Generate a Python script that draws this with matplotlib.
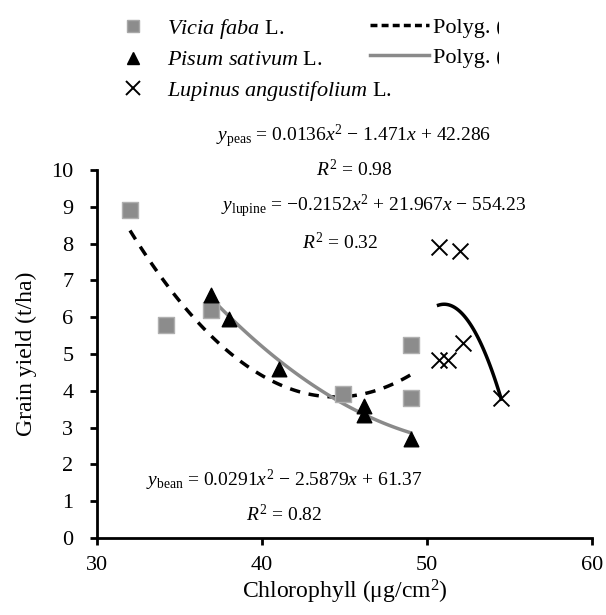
import numpy as np
import matplotlib
matplotlib.use("Agg")
import matplotlib.pyplot as plt
from matplotlib.lines import Line2D
from matplotlib.transforms import Bbox, TransformedBbox

plt.rcParams['font.family'] = 'Liberation Serif'
plt.rcParams['mathtext.fontset'] = 'custom'
plt.rcParams['mathtext.rm'] = 'Liberation Serif'
plt.rcParams['mathtext.it'] = 'Liberation Serif:italic'

# --- datos ---
bean_x = [32.0, 34.2, 36.9, 44.9, 49.0, 49.0]
bean_y = [8.9, 5.8, 6.2, 3.9, 5.25, 3.8]
pea_x = [36.9, 38.0, 41.0, 46.2, 46.2, 49.0]
pea_y = [6.6, 5.95, 4.6, 3.6, 3.35, 2.7]
lupine_x = [50.7, 52.0, 50.7, 51.3, 52.2, 54.5]
lupine_y = [7.9, 7.8, 4.85, 4.85, 5.3, 3.8]

bean_coef = [0.0291, -2.5879, 61.37]
pea_coef = [0.0136, -1.471, 42.286]
lupine_coef = [-0.2152, 21.967, -554.23]

x_ticks = [30, 40, 50, 60]
y_ticks = list(range(0, 11))

W, H = 606, 615
fig = plt.figure(figsize=(W/100, H/100), dpi=100)
ax = fig.add_axes([97/W, 1-538/H, (592-97)/W, (538-170)/H])

# curvas polinómicas
xb = np.linspace(min(bean_x), max(bean_x), 100)
xp = np.linspace(min(pea_x), max(pea_x), 100)
xl = np.linspace(min(lupine_x), max(lupine_x), 100)
ax.plot(xb, np.polyval(bean_coef, xb), color='black', lw=2.5, ls=(0, (3, 2.5)), zorder=2)
ax.plot(xp, np.polyval(pea_coef, xp), color='#8a8a8a', lw=2.5, zorder=2)
ax.plot(xl, np.polyval(lupine_coef, xl), color='black', lw=2.5, zorder=2)

ax.scatter(bean_x, bean_y, marker='s', s=130, color='#8c8c8c', edgecolor='#b0b0b0', lw=1, zorder=3)
ax.scatter(pea_x, pea_y, marker='^', s=110, color='black', zorder=4)
ax.scatter(lupine_x, lupine_y, marker='x', s=130, color='black', lw=1.4, zorder=4)

ax.set_xlim(30, 60)
ax.set_ylim(0, 10)
ax.set_xticks(x_ticks)
ax.set_yticks(y_ticks)
for s in ['top', 'right']:
    ax.spines[s].set_visible(False)
for s in ['left', 'bottom']:
    ax.spines[s].set_linewidth(2)
ax.tick_params(direction='out', width=2, length=5, labelsize=16)
ax.tick_params(axis='x', pad=8)
ax.tick_params(axis='y', pad=12)
ax.set_xlabel('Chlorophyll (μg/cm$^2$)', fontsize=17, labelpad=2)
ax.set_ylabel('Grain yield (t/ha)', fontsize=17, labelpad=10)

# ecuaciones
fs = 14
def px(x, y):
    return x/W, 1-y/H
fig.text(*px(354, 136), r'$y_{\mathrm{peas}}$ = 0.0136$x^2$ − 1.471$x$ + 42.286', fontsize=fs, ha='center', va='center')
fig.text(*px(354, 170), r'$R^2$ = 0.98', fontsize=fs, ha='center', va='center')
fig.text(*px(374, 206), r'$y_{\mathrm{lupine}}$ = −0.2152$x^2$ + 21.967$x$ − 554.23', fontsize=fs, ha='center', va='center')
fig.text(*px(340, 242), r'$R^2$ = 0.32', fontsize=fs, ha='center', va='center')
fig.text(*px(284, 480), r'$y_{\mathrm{bean}}$ = 0.0291$x^2$ − 2.5879$x$ + 61.37', fontsize=fs, ha='center', va='center')
fig.text(*px(284, 515), r'$R^2$ = 0.82', fontsize=fs, ha='center', va='center')

# leyenda (dos bloques)
h1 = [
    Line2D([], [], ls='none', marker='s', ms=9, color='#8c8c8c', mec='#a8a8a8'),
    Line2D([], [], ls='none', marker='^', ms=9, color='black'),
    Line2D([], [], ls='none', marker='x', ms=10, color='black', mew=1.4),
]
l1 = ['$\\it{Vicia\\ faba}$ L.', '$\\it{Pisum\\ sativum}$ L.', '$\\it{Lupinus\\ angustifolium}$ L.']
h2 = [
    Line2D([], [], color='black', lw=2.5, ls=(0, (2, 1.2))),
    Line2D([], [], color='#8a8a8a', lw=2.5),
]
l2 = ['Polyg. (Vicia faba L.)', 'Polyg. (Pisum sativum L.)']
leg_kw = dict(frameon=False, fontsize=16, handlelength=2.65, handletextpad=0.2,
              labelspacing=0.4, borderpad=0, borderaxespad=0)
leg1 = fig.legend(h1, l1, loc='center left', bbox_to_anchor=px(103.5, 60), **leg_kw)
leg2 = fig.legend(h2, l2, loc='center left', bbox_to_anchor=px(370, 42.5), **leg_kw)
clip = TransformedBbox(Bbox([[0, 0], [499/W, 1]]), fig.transFigure)
for t in leg2.get_texts():
    t.set_clip_box(clip)
    t.set_clip_on(True)

fig.savefig('out.png', dpi=100)
